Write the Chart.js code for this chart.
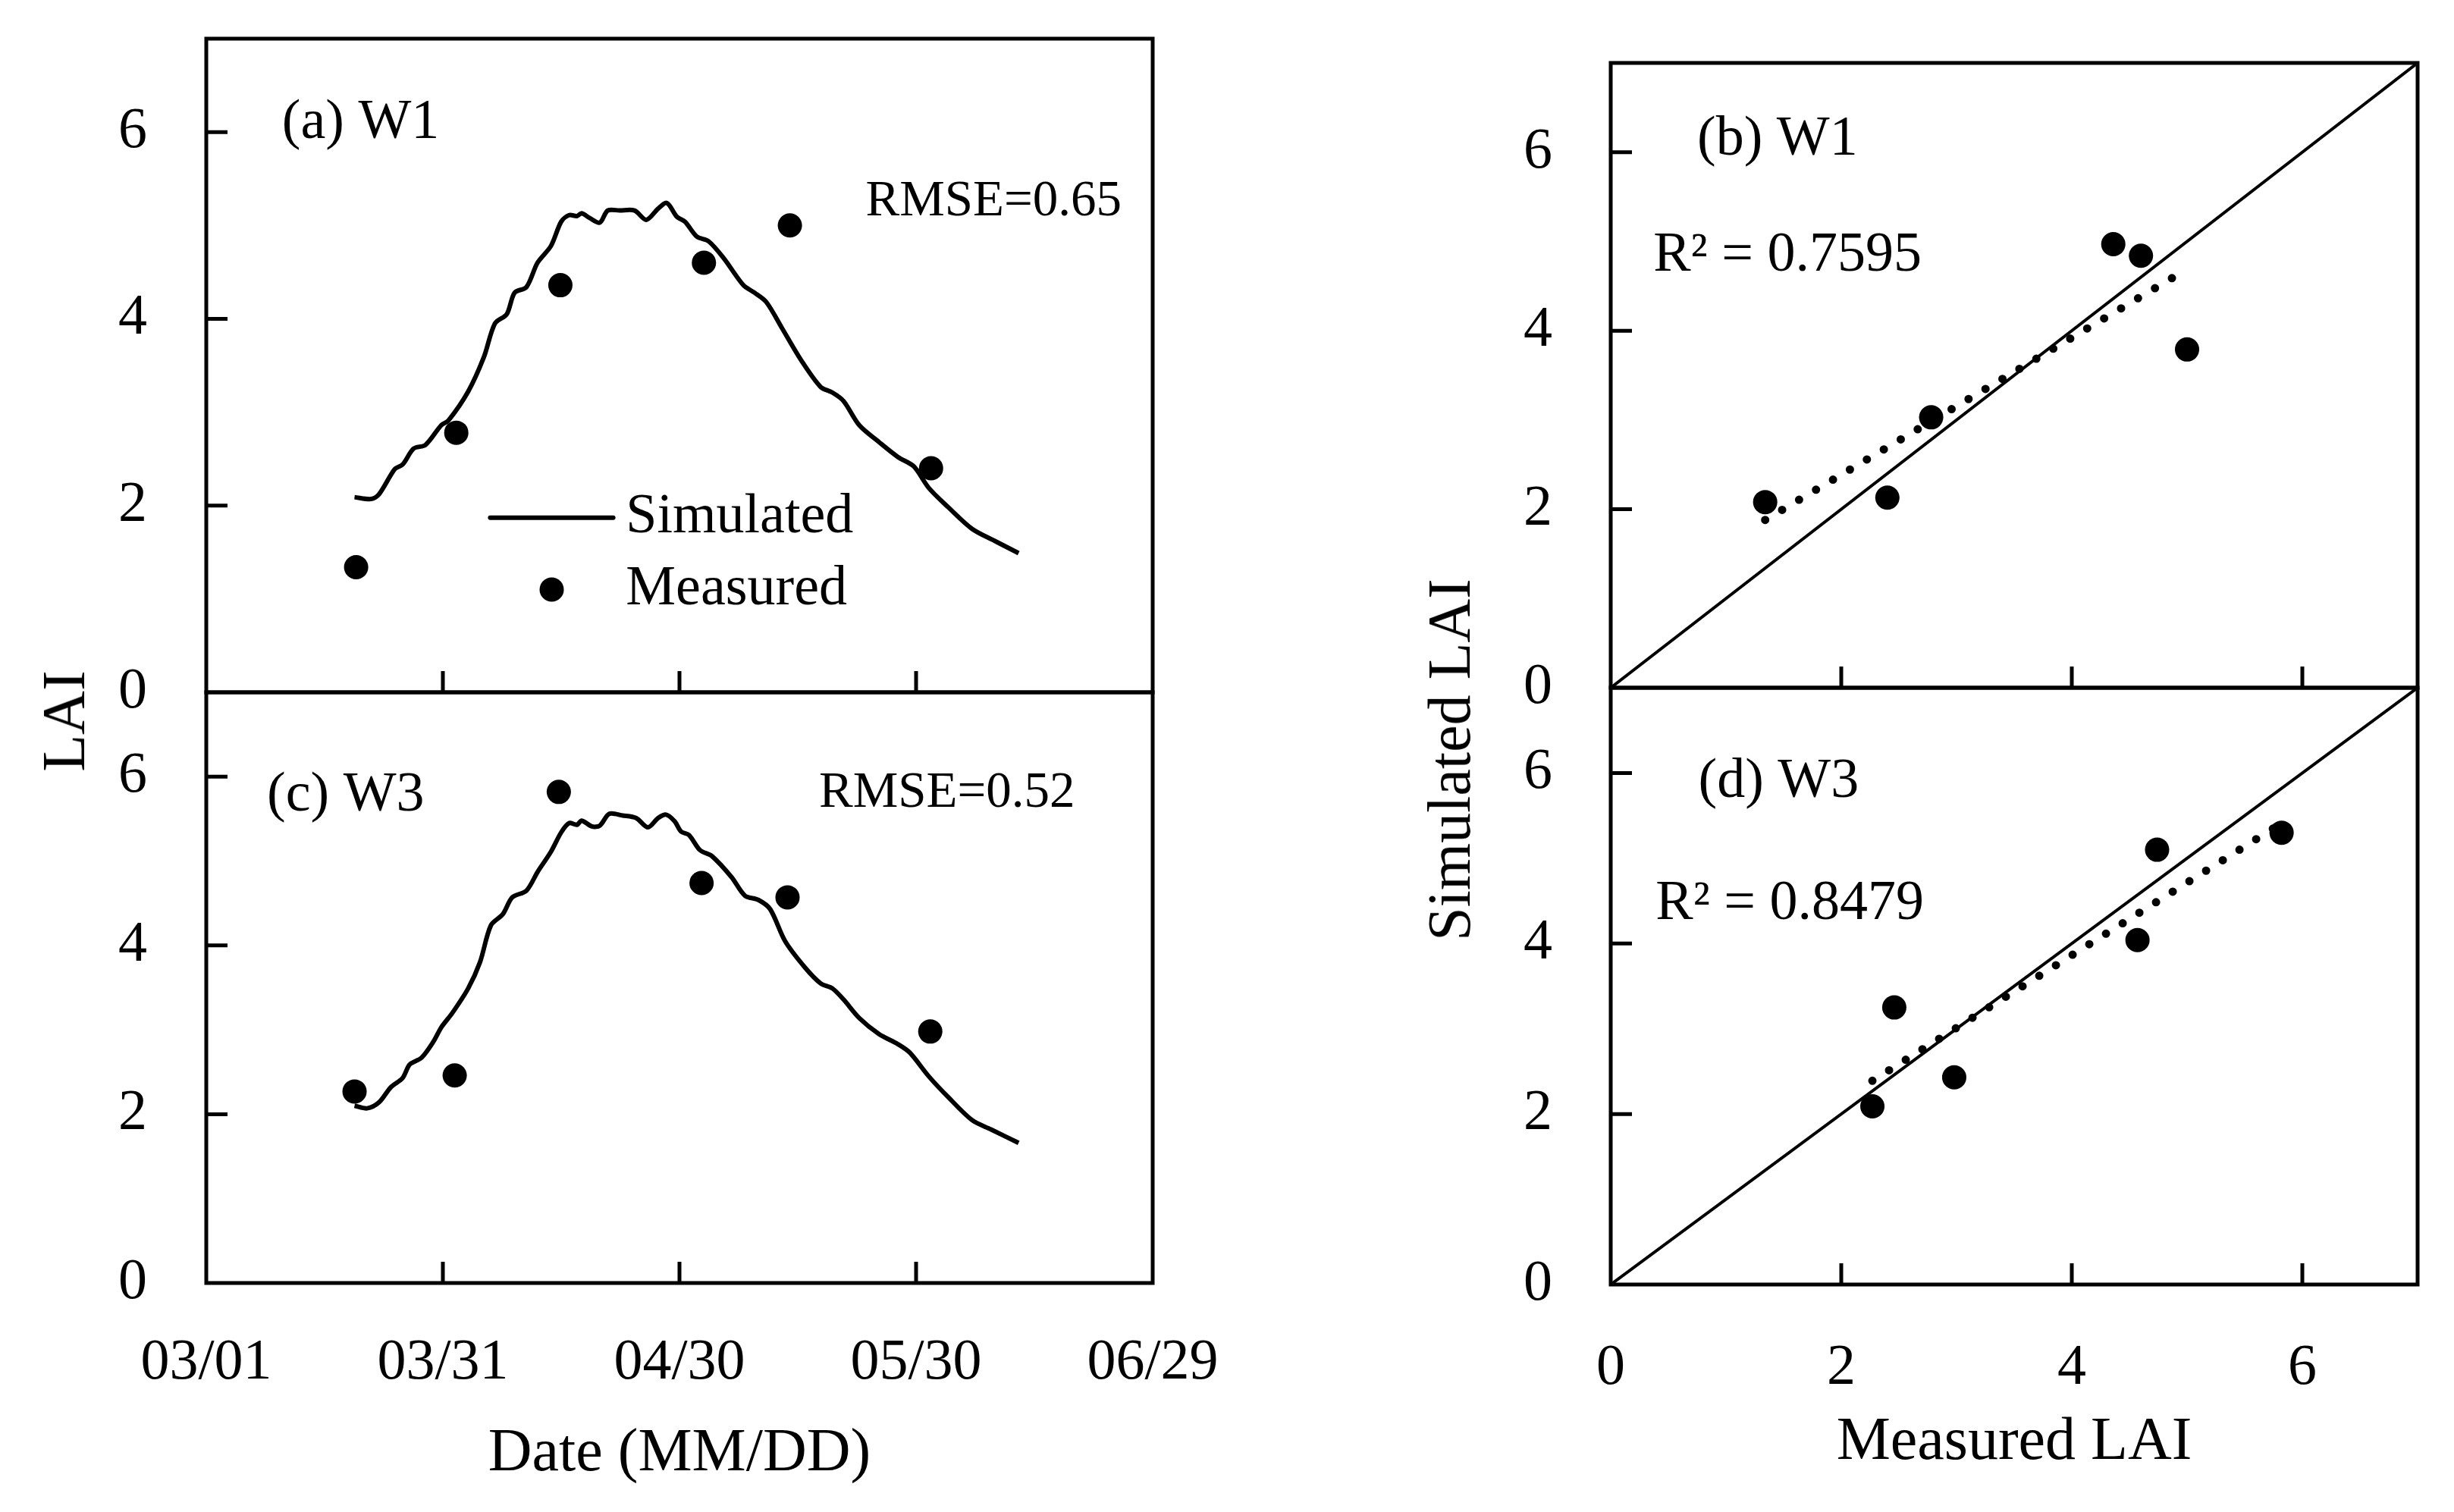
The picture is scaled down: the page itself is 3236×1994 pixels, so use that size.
<!DOCTYPE html>
<html>
<head>
<meta charset="utf-8">
<script src="https://cdn.jsdelivr.net/npm/chart.js@4.4.1/dist/chart.umd.min.js"></script>
<style>
  body { margin: 0; background: #fff; }
  #wrap { position: relative; width: 3236px; height: 1994px; overflow: hidden; background: #fff; }
  canvas { position: absolute; }
  .ytitle {
    position: absolute; font: 80px "Liberation Serif", serif; line-height: 1; color: #000;
    white-space: nowrap; transform: translate(-50%, -50%) rotate(-90deg);
  }
</style>
</head>
<body>
<div id="wrap">
  <canvas id="cA"></canvas>
  <canvas id="cC"></canvas>
  <canvas id="cB"></canvas>
  <canvas id="cD"></canvas>
  <div class="ytitle" style="left:84px;top:951px">LAI</div>
  <div class="ytitle" style="left:1911px;top:1002px">Simulated LAI</div>
</div>
<script>
// x axis of the time panels: days since 03/01
const xTickDays = [0, 30, 60, 90, 120];
const xTickLabels = ['03/01', '03/31', '04/30', '05/30', '06/29'];
const laiTicks = [0, 2, 4, 6];
const laiRange = [0, 7];

// W1 (panel a / b)
const measDaysW1 = [19.0, 31.7, 44.9, 63.1, 74.0, 91.9];
const measLaiW1 = [1.34, 2.78, 4.36, 4.60, 5.00, 2.40];
const simAtMeasW1 = [2.08, 3.03, 4.97, 4.84, 3.79, 2.13];
const simDaysW1 = [18.8, 20.9, 21.9, 23.9, 24.9, 26.3, 27.8, 29.8, 30.7, 33.2, 35.2, 36.6, 38.1, 39.1, 40.6,
  42.0, 43.7, 45.0, 46.0, 47.0, 47.6, 48.6, 49.9, 50.9, 52.4, 54.3, 55.8, 57.3, 58.4, 59.7, 60.7, 62.2, 63.7,
  65.6, 68.1, 69.5, 71.0, 73.0, 75.4, 77.9, 79.4, 80.8, 82.8, 85.3, 87.7, 89.7, 91.6, 94.1, 97.1, 100.0, 103.0];
const simLaiW1 = [2.09, 2.07, 2.12, 2.39, 2.44, 2.61, 2.65, 2.86, 2.91, 3.22, 3.59, 3.95, 4.05, 4.28, 4.34,
  4.60, 4.78, 5.04, 5.11, 5.10, 5.13, 5.08, 5.03, 5.16, 5.16, 5.16, 5.06, 5.18, 5.24, 5.09, 5.04, 4.88, 4.83,
  4.65, 4.36, 4.28, 4.18, 3.90, 3.56, 3.27, 3.21, 3.12, 2.86, 2.68, 2.52, 2.42, 2.19, 1.98, 1.75, 1.62, 1.49];
const trendXW1 = [1.34, 5.00];
const trendYW1 = [1.88, 4.69];

// W3 (panel c / d)
const measDaysW3 = [18.8, 31.5, 44.7, 62.8, 73.7, 91.8];
const measLaiW3 = [2.27, 2.46, 5.82, 4.74, 4.57, 2.98];
const simAtMeasW3 = [2.09, 3.25, 5.30, 5.10, 4.04, 2.43];
const simDaysW3 = [18.8, 20.4, 21.9, 23.4, 24.9, 25.8, 27.3, 28.8, 29.8, 31.2, 33.2, 34.7, 36.1, 37.6, 38.8,
  40.6, 42.0, 43.7, 45.0, 46.0, 47.0, 47.6, 48.9, 49.9, 51.1, 52.8, 54.5, 56.0, 57.3, 58.3, 59.4, 60.2, 61.2,
  62.6, 64.1, 66.6, 68.3, 70.0, 71.5, 73.4, 75.9, 77.9, 79.4, 80.8, 82.8, 85.3, 87.7, 89.2, 91.6, 94.1, 97.1,
  99.5, 103.0];
const simLaiW3 = [2.10, 2.07, 2.14, 2.32, 2.43, 2.59, 2.67, 2.86, 3.03, 3.20, 3.49, 3.80, 4.24, 4.37, 4.57,
  4.65, 4.87, 5.11, 5.34, 5.45, 5.43, 5.48, 5.41, 5.42, 5.56, 5.54, 5.51, 5.40, 5.51, 5.55, 5.47, 5.35, 5.31,
  5.13, 5.06, 4.81, 4.59, 4.54, 4.43, 4.05, 3.74, 3.55, 3.49, 3.36, 3.14, 2.95, 2.83, 2.73, 2.45, 2.20, 1.93,
  1.82, 1.66];
const trendXW3 = [2.27, 5.83];
const trendYW3 = [2.39, 5.42];

const FONT = '"Liberation Serif", serif';
Chart.defaults.font.family = FONT;
Chart.defaults.color = '#000';

const pts = (xs, ys) => xs.map((x, i) => ({ x: x, y: ys[i] }));

// frame, inward ticks, notes and legend
const deco = {
  id: 'panelDeco',
  afterDatasetsDraw(chart, args, o) {
    const { ctx, chartArea: a } = chart;
    const x = chart.scales.x, y = chart.scales.y;
    ctx.save();
    ctx.strokeStyle = '#000';
    ctx.lineWidth = 5;
    ctx.beginPath();
    o.xTicks.forEach(v => {
      const px = x.getPixelForValue(v);
      if (px > a.left + 3 && px < a.right - 3) { ctx.moveTo(px, a.bottom); ctx.lineTo(px, a.bottom - 28); }
    });
    o.yTicks.forEach(v => {
      const py = y.getPixelForValue(v);
      if (py > a.top + 3 && py < a.bottom - 3) { ctx.moveTo(a.left, py); ctx.lineTo(a.left + 28, py); }
    });
    ctx.stroke();
    ctx.strokeRect(a.left, a.top, a.right - a.left, a.bottom - a.top);

    ctx.fillStyle = '#000';
    ctx.textAlign = 'left';
    ctx.textBaseline = 'middle';
    (o.notes || []).forEach(n => {
      ctx.font = n.size + 'px ' + FONT;
      ctx.fillText(n.text, x.getPixelForValue(n.x), y.getPixelForValue(n.y));
    });
    (o.legend || []).forEach(it => {
      const ds = chart.data.datasets[it.ds];
      const py = y.getPixelForValue(it.y);
      if (ds.showLine) {
        ctx.lineWidth = ds.borderWidth;
        ctx.lineCap = 'round';
        ctx.beginPath();
        ctx.moveTo(x.getPixelForValue(it.x), py);
        ctx.lineTo(x.getPixelForValue(it.x2), py);
        ctx.stroke();
      } else {
        ctx.beginPath();
        ctx.arc(x.getPixelForValue(it.x), py, ds.pointRadius, 0, Math.PI * 2);
        ctx.fill();
      }
      ctx.font = '74px ' + FONT;
      ctx.fillText(ds.label, x.getPixelForValue(it.tx), py);
    });
    ctx.restore();
  }
};

// box: canvas rect, area: wanted plot rect, labelLeft: x of the y tick labels
function panel(id, box, area, labelLeft, c) {
  const cv = document.getElementById(id);
  cv.width = box.w; cv.height = box.h;
  Object.assign(cv.style, { left: box.x + 'px', top: box.y + 'px', width: box.w + 'px', height: box.h + 'px' });
  const padL = labelLeft - box.x;
  const yw = area.l - labelLeft;
  const xh = box.y + box.h - area.b;
  return new Chart(cv, {
    type: 'scatter',
    data: { datasets: c.datasets },
    options: {
      responsive: false,
      animation: false,
      devicePixelRatio: 1,
      layout: { autoPadding: false, padding: { left: padL, bottom: 0, top: area.t - box.y, right: box.x + box.w - area.r } },
      plugins: {
        legend: { display: false },
        tooltip: { enabled: false },
        panelDeco: { notes: c.notes, legend: c.legend, xTicks: c.xTicks, yTicks: laiTicks }
      },
      scales: {
        x: {
          type: 'linear', min: c.xMin, max: c.xMax,
          grid: { display: false, drawTicks: false },
          border: { display: false },
          afterBuildTicks: s => { s.ticks = c.xTicks.map(v => ({ value: v })); },
          afterFit: s => { s.height = xh; },
          ticks: {
            display: c.xLabels, autoSkip: false, maxRotation: 0, minRotation: 0,
            padding: c.xPad || 0, font: { size: 76 },
            callback: c.xFmt || (v => v)
          },
          title: {
            display: !!c.xTitle, text: c.xTitle || '', font: { size: 80 },
            padding: { top: 0, bottom: c.titlePad || 0 }
          }
        },
        y: {
          type: 'linear', min: laiRange[0], max: laiRange[1],
          grid: { display: false, drawTicks: false },
          border: { display: false },
          afterBuildTicks: s => { s.ticks = laiTicks.map(v => ({ value: v })); },
          afterFit: s => { s.width = yw; },
          ticks: { padding: 0, crossAlign: 'far', font: { size: 76 } }
        }
      }
    },
    plugins: [deco]
  });
}

const dateFmt = v => xTickLabels[xTickDays.indexOf(v)];

const simStyle = { showLine: true, pointRadius: 0, borderColor: '#000', borderWidth: 6, tension: 0.3, fill: false };
const dotStyle = { pointRadius: 16, pointBackgroundColor: '#000', pointBorderWidth: 0, borderColor: '#000', showLine: false };
const oneStyle = { showLine: true, pointRadius: 0, borderColor: '#000', borderWidth: 4, tension: 0 };
const trendStyle = { showLine: true, pointRadius: 0, borderColor: '#000', borderWidth: 11, borderDash: [0, 26], borderCapStyle: 'round', tension: 0 };

// (a) W1 time series
panel('cA', { x: 0, y: 0, w: 1700, h: 980 }, { l: 272, t: 51, r: 1520, b: 913 }, 156, {
  xMin: xTickDays[0], xMax: xTickDays[xTickDays.length - 1], xTicks: xTickDays, xLabels: false,
  datasets: [
    Object.assign({ label: 'Simulated', data: pts(simDaysW1, simLaiW1) }, simStyle),
    Object.assign({ label: 'Measured', data: pts(measDaysW1, measLaiW1) }, dotStyle)
  ],
  notes: [
    { text: '(a) W1', x: 9.6, y: 6.09, size: 74 },
    { text: 'RMSE=0.65', x: 83.6, y: 5.25, size: 67 }
  ],
  legend: [
    { ds: 0, x: 36.0, x2: 51.6, y: 1.87, tx: 53.2 },
    { ds: 1, x: 43.8, y: 1.10, tx: 53.2 }
  ]
});

// (c) W3 time series
panel('cC', { x: 0, y: 850, w: 1700, h: 1144 }, { l: 272, t: 913, r: 1520, b: 1692 }, 156, {
  xMin: xTickDays[0], xMax: xTickDays[xTickDays.length - 1], xTicks: xTickDays, xLabels: true, xPad: 60,
  xFmt: dateFmt, xTitle: 'Date (MM/DD)', titlePad: 28,
  datasets: [
    Object.assign({ label: 'Simulated', data: pts(simDaysW3, simLaiW3) }, simStyle),
    Object.assign({ label: 'Measured', data: pts(measDaysW3, measLaiW3) }, dotStyle)
  ],
  notes: [
    { text: '(c) W3', x: 7.7, y: 5.77, size: 74 },
    { text: 'RMSE=0.52', x: 77.7, y: 5.80, size: 67 }
  ]
});

// (b) W1 scatter
panel('cB', { x: 1700, y: 0, w: 1536, h: 980 }, { l: 2124, t: 83, r: 3188, b: 907 }, 2009, {
  xMin: laiRange[0], xMax: laiRange[1], xTicks: laiTicks, xLabels: false,
  datasets: [
    Object.assign({ label: '1:1', data: pts(laiRange, laiRange) }, oneStyle),
    Object.assign({ label: 'Trend', data: pts(trendXW1, trendYW1) }, trendStyle),
    Object.assign({ label: 'W1', data: pts(measLaiW1, simAtMeasW1) }, dotStyle)
  ],
  notes: [
    { text: '(b) W1', x: 0.75, y: 6.14, size: 74 },
    { text: 'R² = 0.7595', x: 0.37, y: 4.84, size: 74 }
  ]
});

// (d) W3 scatter
panel('cD', { x: 1700, y: 850, w: 1536, h: 1144 }, { l: 2124, t: 907, r: 3188, b: 1694 }, 2009, {
  xMin: laiRange[0], xMax: laiRange[1], xTicks: laiTicks, xLabels: true, xPad: 65,
  xTitle: 'Measured LAI', titlePad: 43,
  datasets: [
    Object.assign({ label: '1:1', data: pts(laiRange, laiRange) }, oneStyle),
    Object.assign({ label: 'Trend', data: pts(trendXW3, trendYW3) }, trendStyle),
    Object.assign({ label: 'W3', data: pts(measLaiW3, simAtMeasW3) }, dotStyle)
  ],
  notes: [
    { text: '(d) W3', x: 0.76, y: 5.89, size: 74 },
    { text: 'R² = 0.8479', x: 0.39, y: 4.46, size: 74 }
  ]
});
</script>
</body>
</html>
